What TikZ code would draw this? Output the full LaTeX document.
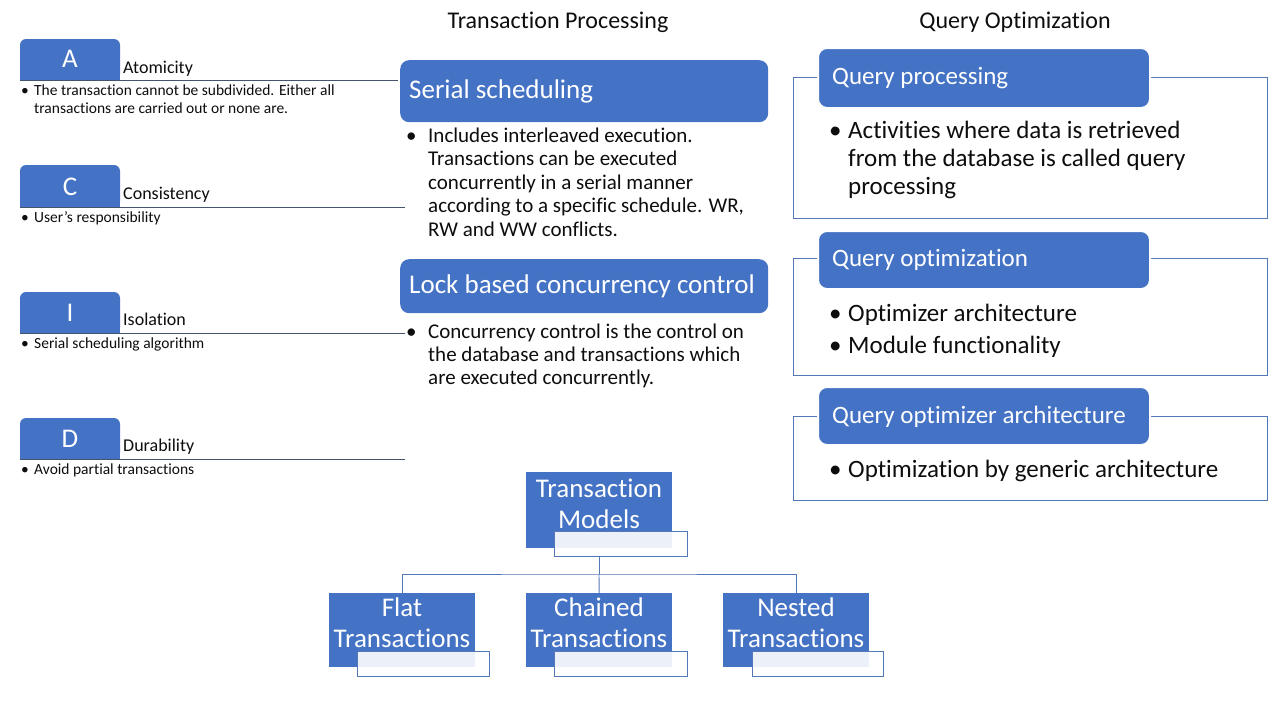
\documentclass[tikz,border=0pt]{standalone}
\usepackage{fontspec}
\setmainfont{Carlito}[Ligatures={NoCommon}]
\definecolor{boxblue}{HTML}{4472C4}
\definecolor{acidline}{HTML}{44546A}
\definecolor{frameline}{HTML}{5477B8}
\definecolor{txtblack}{HTML}{0D0D0D}
\begin{document}
\begin{tikzpicture}[x=1pt,y=-1pt,
  fs/.style={font=\fontsize{#1}{#1}\selectfont},
  txt/.style={anchor=base west, inner sep=0pt, text=txtblack},
  wtxt/.style={anchor=base west, inner sep=0pt, text=white},
  ctxt/.style={anchor=base, inner sep=0pt, text=white, fs=27},
  lettertxt/.style={anchor=base, inner sep=0pt, text=white, fs=27},
  hbox/.style={fill=boxblue, rounded corners=9pt, anchor=north west, inner sep=0pt},
  qbox/.style={fill=boxblue, draw=white, line width=2pt, rounded corners=9pt, anchor=north west, inner sep=0pt, minimum width=332},
  orgbox/.style={fill=boxblue, anchor=north west, inner sep=0pt, minimum width=146, minimum height=75},
  subbox/.style={fill=white, fill opacity=0.9, draw=frameline, line width=0.9pt, anchor=north west, inner sep=0pt, minimum width=132, minimum height=25},
  acid/.style={draw=acidline, line width=0.9pt},
  frame/.style={draw=frameline, line width=0.9pt},
  orgline/.style={draw=frameline, line width=0.9pt}
]
\useasboundingbox (0,0) rectangle (1280,720);

% ---------- titles ----------
\node[txt, anchor=base, fs=24] (t1) at (558,28) {Transaction Processing};
\node[txt, anchor=base, fs=24] (t2) at (1015,28) {Query Optimization};

% ---------- ACID ----------
% A
\fill[boxblue, rounded corners=6pt] (20,39) rectangle (120,80);
\fill[boxblue] (20,70) rectangle (120,80);
\node[lettertxt] (A) at (70,67) {A};
\node[txt, fs=18] (Atit) at (123,73) {Atomicity};
\coordinate (As) at (20,80); \coordinate (Ae) at (398,80);
\draw[acid] (As) -- (Ae);
\node[txt, fs=15.5] (Ab) at (21,95) {•};
\node[txt, fs=15.5] (Ab1) at (34,95) {The transaction cannot be subdivided. Either all};
\node[txt, fs=15.5] (Ab2) at (34,113) {transactions are carried out or none are.};
% C
\fill[boxblue, rounded corners=6pt] (20,165) rectangle (120,207);
\fill[boxblue] (20,196) rectangle (120,207);
\node[lettertxt] (C) at (70,195) {C};
\node[txt, fs=18] (Ctit) at (123,199) {Consistency};
\coordinate (Cs) at (20,207); \coordinate (Ce) at (405,207);
\draw[acid] (Cs) -- (Ce);
\node[txt, fs=15.5] (Cb) at (21,222) {•};
\node[txt, fs=15.5] (Cb1) at (34,222) {User’s responsibility};
% I
\fill[boxblue, rounded corners=6pt] (20,292) rectangle (120,333);
\fill[boxblue] (20,322) rectangle (120,333);
\node[lettertxt] (I) at (70,321) {I};
\node[txt, fs=18] (Itit) at (123,325) {Isolation};
\coordinate (Is) at (20,333); \coordinate (Ie) at (405,333);
\draw[acid] (Is) -- (Ie);
\node[txt, fs=15.5] (Ib) at (21,348) {•};
\node[txt, fs=15.5] (Ib1) at (34,348) {Serial scheduling algorithm};
% D
\fill[boxblue, rounded corners=6pt] (20,418) rectangle (120,459);
\fill[boxblue] (20,448) rectangle (120,459);
\node[lettertxt] (D) at (70,447) {D};
\node[txt, fs=18] (Dtit) at (123,451) {Durability};
\coordinate (Ds) at (20,459); \coordinate (De) at (405,459);
\draw[acid] (Ds) -- (De);
\node[txt, fs=15.5] (Db) at (21,474) {•};
\node[txt, fs=15.5] (Db1) at (34,474) {Avoid partial transactions};

% ---------- Transaction processing ----------
\node[hbox, minimum width=368, minimum height=62] (ss) at (400,60) {};
\node[wtxt, fs=27] (sst) at (409,98) {Serial scheduling};
\node[txt, fs=21] (ssb) at (406,142) {•};
\node[txt, fs=21] (ss1) at (428,142) {Includes interleaved execution.};
\node[txt, fs=21] (ss2) at (428,165.5) {Transactions can be executed};
\node[txt, fs=21] (ss3) at (428,189) {concurrently in a serial manner};
\node[txt, fs=21] (ss4) at (428,212.5) {according to a specific schedule. WR,};
\node[txt, fs=21] (ss5) at (428,236) {RW and WW conflicts.};

\node[hbox, minimum width=368, minimum height=54] (lb) at (400,259) {};
\node[wtxt, fs=27] (lbt) at (409,293) {Lock based concurrency control};
\node[txt, fs=21] (lbb) at (406,338) {•};
\node[txt, fs=21] (lb1) at (428,338) {Concurrency control is the control on};
\node[txt, fs=21] (lb2) at (428,361) {the database and transactions which};
\node[txt, fs=21] (lb3) at (428,384) {are executed concurrently.};

% ---------- Query optimization ----------
\node[frame, draw, anchor=north west, minimum width=474, minimum height=141, inner sep=0pt] (qpf) at (793,77) {};
\node[qbox, minimum height=60] (qp) at (817,47) {};
\node[wtxt, fs=25] (qpt) at (832,84) {Query processing};
\node[txt, fs=25] (qpb) at (829,138) {•};
\node[txt, fs=25] (qp1) at (848,138) {Activities where data is retrieved};
\node[txt, fs=25] (qp2) at (848,166) {from the database is called query};
\node[txt, fs=25] (qp3) at (848,194) {processing};

\node[frame, draw, anchor=north west, minimum width=474, minimum height=117, inner sep=0pt] (qof) at (793,258) {};
\node[qbox, minimum height=58] (qo) at (817,230) {};
\node[wtxt, fs=25] (qot) at (832,266) {Query optimization};
\node[txt, fs=25] (qob1) at (829,321) {•};
\node[txt, fs=25] (qo1) at (848,321) {Optimizer architecture};
\node[txt, fs=25] (qob2) at (829,353) {•};
\node[txt, fs=25] (qo2) at (848,353) {Module functionality};

\node[frame, draw, anchor=north west, minimum width=474, minimum height=84, inner sep=0pt] (qaf) at (793,416) {};
\node[qbox, minimum height=58] (qa) at (817,386) {};
\node[wtxt, fs=25] (qat) at (832,423) {Query optimizer architecture};
\node[txt, fs=25] (qab) at (829,477) {•};
\node[txt, fs=25] (qa1) at (848,477) {Optimization by generic architecture};

% ---------- Transaction models ----------
\node[orgbox, minimum height=76] (tm) at (526,472) {};
\node[subbox, minimum width=133] (tms) at (554,531) {};
\node[ctxt] (tmt1) at (599,497) {Transaction};
\node[ctxt] (tmt2) at (599,528) {Models};

\node[orgbox, minimum height=74] (flat) at (329,593) {};
\node[subbox] (flats) at (357,651) {};
\node[ctxt] (flt1) at (402,616) {Flat};
\node[ctxt] (flt2) at (402,647) {Transactions};

\node[orgbox, minimum height=74] (chain) at (526,593) {};
\node[subbox, minimum width=133] (chains) at (554,651) {};
\node[ctxt] (cht1) at (599,616) {Chained};
\node[ctxt] (cht2) at (599,647) {Transactions};

\node[orgbox, minimum height=74] (nest) at (723,593) {};
\node[subbox, minimum width=131] (nests) at (752,651) {};
\node[ctxt] (nst1) at (796,616) {Nested};
\node[ctxt] (nst2) at (796,647) {Transactions};

\coordinate (bus) at (599,574);
\draw[orgline] (bus |- tms.south) -- (bus);
\draw[orgline] (flat.north) |- (bus) -| (nest.north);
\draw[orgline] (bus) -- (chain.north);
\end{tikzpicture}
\end{document}
